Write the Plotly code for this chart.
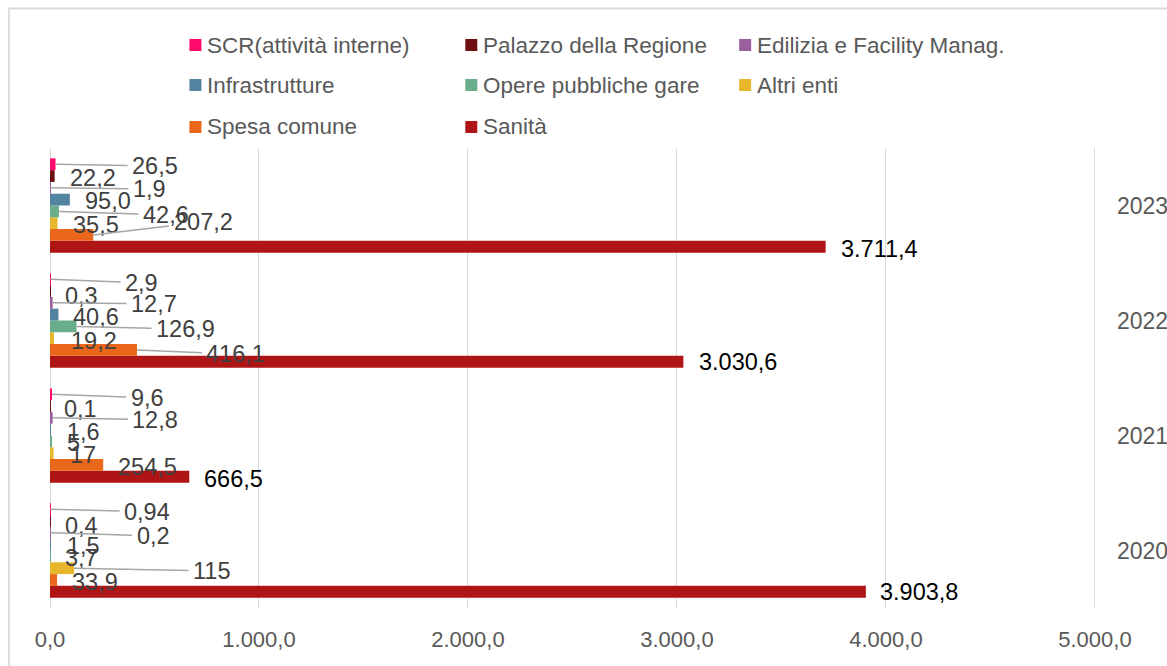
import plotly.graph_objects as go

# ---- data -------------------------------------------------------------
years = ["2020", "2021", "2022", "2023"]

scr_attivita_interne = [0.94, 9.6, 2.9, 26.5]
palazzo_regione = [0.4, 0.1, 0.3, 22.2]
edilizia_facility = [0.2, 12.8, 12.7, 1.9]
infrastrutture = [1.5, 1.6, 40.6, 95.0]
opere_pubbliche_gare = [3.7, 5, 126.9, 42.6]
altri_enti = [115, 17, 19.2, 35.5]
spesa_comune = [33.9, 254.5, 416.1, 207.2]
sanita = [3903.8, 666.5, 3030.6, 3711.4]

x_ticks = [0, 1000, 2000, 3000, 4000, 5000]

# series listed in legend order (top bar of each group first)
series = [
    ("SCR(attività interne)", scr_attivita_interne, "#FF0A6C"),
    ("Palazzo della Regione", palazzo_regione, "#6E0F10"),
    ("Edilizia e Facility Manag.", edilizia_facility, "#9C5F9E"),
    ("Infrastrutture", infrastrutture, "#5283A1"),
    ("Opere pubbliche gare", opere_pubbliche_gare, "#69AD8D"),
    ("Altri enti", altri_enti, "#E8B62A"),
    ("Spesa comune", spesa_comune, "#E9661A"),
    ("Sanità", sanita, "#B01516"),
]

# ---- label placement: pixel offsets (dx, dy) from bar end, leader flag ----
# indexed [series][year] in the same order as above
label_pos = [
    [(97, 2.6, 1), (95, 3.6, 1), (91, 3.6, 1), (99.5, 1.6, 1)],
    [(31.4, 4.9, 0), (30.5, 2.9, 0), (31.4, 4.9, 0), (38.4, 1.9, 0)],
    [(103, 3.1, 1), (102.8, 2.1, 1), (101.3, 1.1, 1), (99, 1.1, 1)],
    [(32.7, 1.4, 0), (32.7, 2.4, 0), (37.5, 2.4, 0), (38, 1.4, 0)],
    [(30.7, 1.6, 0), (22, 1.6, 0), (109, 2.6, 1), (107, 3.6, 1)],
    [(137.5, 2.9, 1), (29.4, 1.9, 0), (40, 2.9, 0), (38.6, 1.9, 0)],
    [(38.4, 2.1, 0), (44.8, 2.1, 0), (99, 4.1, 1), (109.7, -12.9, 1)],
    [(53.2, 0.4, 0), (44.6, 2.4, 0), (54.3, 0.4, 0), (53.4, 2.4, 0)],
]

# ---- geometry ---------------------------------------------------------
W, H = 1167, 666
ML, MR, MT, MB = 49.5, 71, 148, 58
X_MAX = 5005  # a hair past the last tick so its gridline is drawn
BARGAP = 0.18
FONT = "Century Gothic, Liberation Sans, Arial, sans-serif"
GRID = "#D9D9D9"


def px_x(px):
    return (px - ML) / (W - ML - MR)


def px_y(py):
    return 1 - (py - MT) / (H - MT - MB)


def it_number(v):
    """Italian number format keeping the value's own decimals."""
    dec = 0 if isinstance(v, int) else len(repr(float(v)).split(".")[1])
    s = f"{v:,.{dec}f}"
    return s.replace(",", "_").replace(".", ",").replace("_", ".")


fig = go.Figure()

# bars: plotly stacks group members bottom-up, so add the bottom series first
n = len(series)
for name, vals, color in reversed(series):
    fig.add_trace(go.Bar(
        y=list(range(len(years))), x=vals, name=name, orientation="h",
        marker=dict(color=color, line=dict(width=0)), showlegend=False,
        hoverinfo="skip",
    ))

# data labels with leader lines
w = (1 - BARGAP) / n
annotations = []
for s_idx, (name, vals, color) in enumerate(series):
    k = n - 1 - s_idx  # position within group counted from bottom
    off = -(1 - BARGAP) / 2 + w * (k + 0.5)
    for y_idx, v in enumerate(vals):
        dx, dy, leader = label_pos[s_idx][y_idx]
        is_main = name == "Sanità"
        annotations.append(dict(
            x=v, y=y_idx + off, xref="x", yref="y",
            text=it_number(v), showarrow=True, arrowhead=0,
            arrowwidth=1.5,
            arrowcolor="#A6A6A6" if leader else "rgba(0,0,0,0)",
            ax=dx, ay=dy, standoff=0, borderpad=4,
            font=dict(family=FONT, size=23.5,
                      color="#000000" if is_main else "#404040"),
        ))

# legend drawn as squares + text in three columns
leg_cols = [189, 465, 739]
leg_rows = [45, 85, 127]
shapes = []
for i, (name, vals, color) in enumerate(series):
    cx = leg_cols[i % 3]
    cy = leg_rows[i // 3]
    shapes.append(dict(
        type="rect", xref="paper", yref="paper",
        x0=px_x(cx), x1=px_x(cx + 12), y0=px_y(cy + 6), y1=px_y(cy - 6),
        fillcolor=color, line=dict(width=0),
    ))
    annotations.append(dict(
        x=px_x(cx + 16), y=px_y(cy), xref="paper", yref="paper",
        text=name, showarrow=False, xanchor="left", yanchor="middle",
        font=dict(family=FONT, size=22.5, color="#595959"),
    ))

# chart border
shapes.append(dict(
    type="rect", xref="paper", yref="paper", layer="below",
    x0=px_x(8.5), x1=px_x(W + 20), y0=px_y(H + 20), y1=px_y(8.5),
    line=dict(color=GRID, width=1.8), fillcolor="rgba(0,0,0,0)",
))

fig.update_layout(
    width=W, height=H,
    margin=dict(l=ML, r=MR, t=MT, b=MB, pad=0),
    paper_bgcolor="white", plot_bgcolor="white",
    barmode="group", bargap=BARGAP, bargroupgap=0,
    separators=",.",
    font=dict(family=FONT, color="#595959"),
    annotations=annotations, shapes=shapes,
    showlegend=False,
    xaxis=dict(
        range=[0, X_MAX], tickvals=x_ticks, tickformat=",.1f",
        showgrid=True, gridcolor=GRID, gridwidth=1.3,
        zeroline=True, zerolinecolor=GRID, zerolinewidth=1.3,
        showline=False, ticks="", ticklabelstandoff=16,
        tickfont=dict(family=FONT, size=22, color="#595959"),
        automargin=False, fixedrange=True,
    ),
    yaxis=dict(
        range=[-0.5, 3.5], tickvals=list(range(len(years))), ticktext=years,
        side="right", showgrid=False, zeroline=False, showline=False,
        ticks="", ticklabelstandoff=20,
        tickfont=dict(family=FONT, size=23, color="#595959"),
        automargin=False, fixedrange=True,
    ),
)

fig.write_html("out.html", config={"displayModeBar": False})
